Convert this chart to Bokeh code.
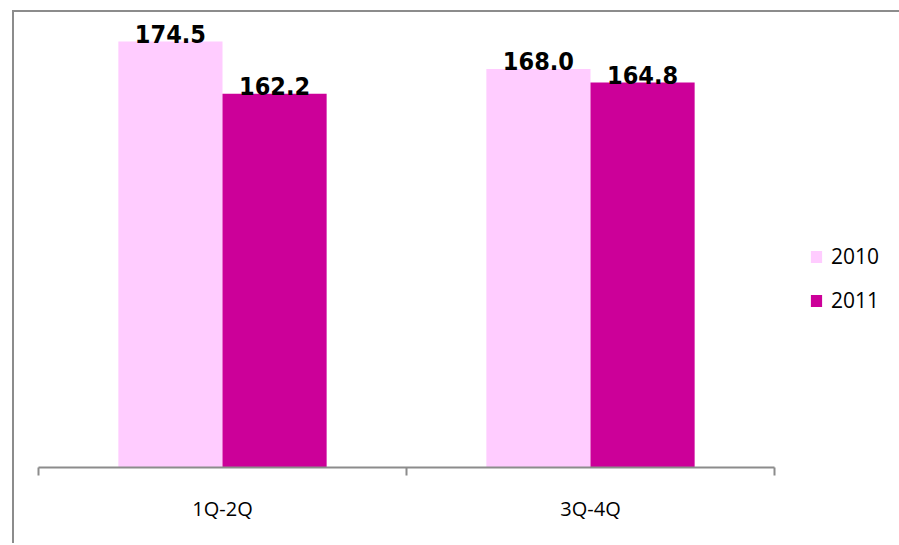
from bokeh.plotting import figure
from bokeh.models import (ColumnDataSource, Range1d, FixedTicker, Legend, LegendItem)
from bokeh.transform import dodge
from bokeh.core.properties import value
from bokeh.embed import file_html
from bokeh.resources import INLINE

categories = ["1Q-2Q", "3Q-4Q"]
series_names = ["2010", "2011"]
values_2010 = [174.5, 168.0]
values_2011 = [162.2, 164.8]
colors = ["#FFCCFF", "#CC0099"]

centers = [i + 0.5 for i in range(len(categories))]
boundaries = [float(i) for i in range(len(categories) + 1)]

source = ColumnDataSource(data=dict(
    x=centers,
    cat=categories,
    v2010=values_2010,
    v2011=values_2011,
    l2010=[f"{v:.1f}" for v in values_2010],
    l2011=[f"{v:.1f}" for v in values_2011],
))

p = figure(
    output_backend="svg", toolbar_location=None,
    frame_width=736, frame_height=451,
    min_border_left=24, min_border_right=124,
    min_border_top=4, min_border_bottom=76,
    x_range=Range1d(0, len(categories)), y_range=Range1d(74, 180.4),
    margin=(10, 0, 0, 12),
    styles={"border-width": "2px 0px 0px 2px", "border-style": "solid",
            "border-color": "#8c8c8c"},
)
p.outline_line_color = None
p.grid.visible = False
p.yaxis.visible = False

bw = 0.283
off = 0.1415
r1 = p.vbar(x=dodge("x", -off), top="v2010", bottom=74, width=bw, source=source,
            fill_color=colors[0], line_color=None)
r2 = p.vbar(x=dodge("x", off), top="v2011", bottom=74, width=bw, source=source,
            fill_color=colors[1], line_color=None)

for col, lab, dx in (("v2010", "l2010", -off), ("v2011", "l2011", off)):
    p.text(x=dodge("x", dx), y=col, text=lab, source=source,
           text_align="center", text_baseline="alphabetic", y_offset=-8,
           text_font=value("DejaVu Sans Condensed"), text_font_style="bold",
           text_font_size="25px", text_color="black")

ax = p.xaxis[0]
ax.ticker = FixedTicker(ticks=centers, minor_ticks=boundaries)
ax.major_label_overrides = {c: n for c, n in zip(centers, categories)}
ax.major_tick_in = 0
ax.major_tick_out = 0
ax.minor_tick_in = 0
ax.minor_tick_out = 8
ax.minor_tick_line_color = "#8c8c8c"
ax.minor_tick_line_width = 2
ax.axis_line_color = "#8c8c8c"
ax.axis_line_width = 2
ax.major_label_text_font = "Open Sans"
ax.major_label_text_font_size = "20px"
ax.major_label_text_color = "black"
ax.major_label_standoff = 19

legend = Legend(items=[LegendItem(label=series_names[0], renderers=[r1]),
                       LegendItem(label=series_names[1], renderers=[r2])],
                location=(35, 153), orientation="vertical",
                glyph_width=14, glyph_height=15, spacing=16,
                label_text_font="Open Sans", label_text_font_size="21px",
                label_text_color="black", label_standoff=8, label_width=54,
                border_line_color=None, background_fill_alpha=0,
                padding=4, margin=0)
p.add_layout(legend, "right")

open("out.html", "w").write(file_html(p, INLINE))
